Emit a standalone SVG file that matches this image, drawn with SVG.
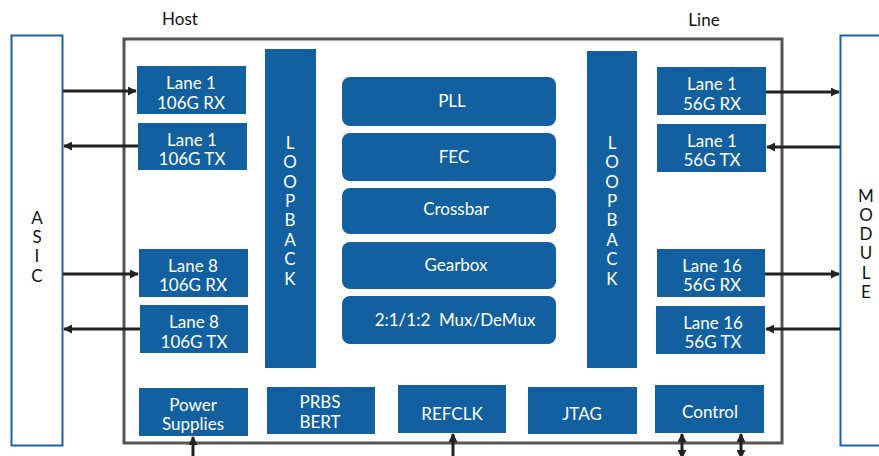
<svg xmlns="http://www.w3.org/2000/svg" width="879" height="456" viewBox="0 0 879 456">
<style>
.b{fill:#12609f}
.t{fill:#fff;font-family:Lato,"Open Sans",sans-serif;font-size:17px;text-anchor:middle}
.k{fill:#111;font-family:Lato,"Open Sans",sans-serif;font-size:17px;text-anchor:middle}
.c{stroke:#222;stroke-width:3;fill:none}
</style>
<defs>
<marker id="a" viewBox="0 0 10 10" refX="9" refY="5" markerWidth="3" markerHeight="3" orient="auto-start-reverse"><path d="M0,0L10,5L0,10z" fill="#222"/></marker>
</defs>
<rect width="879" height="456" fill="#fff"/>
<text class="k" x="180" y="25">Host</text>
<text class="k" x="704" y="26">Line</text>
<rect x="124" y="39" width="658" height="404" fill="none" stroke="#555" stroke-width="3"/>
<g id="asic"><rect x="11.5" y="35.5" width="51" height="410" fill="none" stroke="#1a64a6" stroke-width="2"/>
<text class="k" x="37" y="224">A</text><text class="k" x="37" y="243">S</text><text class="k" x="37" y="262">I</text><text class="k" x="37" y="282">C</text></g>
<g id="module"><rect x="840.5" y="35.5" width="50" height="410" fill="none" stroke="#1a64a6" stroke-width="2"/>
<text class="k" x="866" y="202">M</text><text class="k" x="866" y="221">O</text><text class="k" x="866" y="240">D</text><text class="k" x="866" y="259">U</text><text class="k" x="866" y="279">L</text><text class="k" x="866" y="298">E</text></g>
<g id="h1rx"><rect class="b" x="137" y="66" width="109" height="48"/><text class="t" x="191" y="89">Lane 1</text><text class="t" x="191" y="109">106G RX</text></g>
<g id="h1tx"><rect class="b" x="138" y="123" width="109" height="47"/><text class="t" x="192" y="146">Lane 1</text><text class="t" x="192" y="165">106G TX</text></g>
<g id="h8rx"><rect class="b" x="139" y="249" width="109" height="48"/><text class="t" x="193" y="272">Lane 8</text><text class="t" x="193" y="291">106G RX</text></g>
<g id="h8tx"><rect class="b" x="140" y="305" width="108" height="48"/><text class="t" x="194" y="328">Lane 8</text><text class="t" x="194" y="348">106G TX</text></g>
<g id="lbl"><rect class="b" x="265" y="49" width="51" height="319"/>
<g class="t"><text x="290" y="149">L</text><text x="290" y="168">O</text><text x="290" y="188">O</text><text x="290" y="207">P</text><text x="290" y="226">B</text><text x="290" y="246">A</text><text x="290" y="265">C</text><text x="290" y="285">K</text></g></g>
<g id="lbr"><rect class="b" x="587" y="51" width="50" height="317"/>
<g class="t"><text x="612" y="149">L</text><text x="612" y="168">O</text><text x="612" y="188">O</text><text x="612" y="207">P</text><text x="612" y="226">B</text><text x="612" y="246">A</text><text x="612" y="265">C</text><text x="612" y="285">K</text></g></g>
<g id="pll"><rect class="b" x="342" y="77" width="214" height="49" rx="8"/><text class="t" x="452" y="107">PLL</text></g>
<g id="fec"><rect class="b" x="342" y="133" width="214" height="48" rx="8"/><text class="t" x="454" y="163">FEC</text></g>
<g id="xbar"><rect class="b" x="342" y="188" width="214" height="46" rx="8"/><text class="t" x="456" y="215">Crossbar</text></g>
<g id="gear"><rect class="b" x="342" y="242" width="214" height="47" rx="8"/><text class="t" x="456" y="271">Gearbox</text></g>
<g id="mux"><rect class="b" x="342" y="296" width="214" height="48" rx="8"/><text class="t" x="455" y="326" style="white-space:pre">2:1/1:2  Mux/DeMux</text></g>
<g id="l1rx"><rect class="b" x="657" y="67" width="109" height="48"/><text class="t" x="712" y="90">Lane 1</text><text class="t" x="712" y="110">56G RX</text></g>
<g id="l1tx"><rect class="b" x="657" y="124" width="109" height="48"/><text class="t" x="712" y="147">Lane 1</text><text class="t" x="712" y="166">56G TX</text></g>
<g id="l16rx"><rect class="b" x="657" y="249" width="108" height="48"/><text class="t" x="712" y="272">Lane 16</text><text class="t" x="712" y="291">56G RX</text></g>
<g id="l16tx"><rect class="b" x="656" y="306" width="109" height="48"/><text class="t" x="713" y="329">Lane 16</text><text class="t" x="713" y="348">56G TX</text></g>
<g id="pwr"><rect class="b" x="139" y="388" width="109" height="48"/><text class="t" x="193" y="411">Power</text><text class="t" x="193" y="430">Supplies</text></g>
<g id="prbs"><rect class="b" x="267" y="387" width="108" height="47"/><text class="t" x="320" y="408">PRBS</text><text class="t" x="320" y="428">BERT</text></g>
<g id="refclk"><rect class="b" x="398" y="385" width="108" height="48"/><text class="t" x="452" y="420">REFCLK</text></g>
<g id="jtag"><rect class="b" x="528" y="387" width="109" height="47"/><text class="t" x="582" y="420">JTAG</text></g>
<g id="ctrl"><rect class="b" x="655" y="385" width="109" height="48"/><text class="t" x="710" y="418">Control</text></g>
<g id="connectors" class="c">
<line x1="63" y1="91" x2="136" y2="91" marker-end="url(#a)"/>
<line x1="138" y1="146" x2="64" y2="146" marker-end="url(#a)"/>
<line x1="63" y1="274" x2="138" y2="274" marker-end="url(#a)"/>
<line x1="140" y1="329" x2="64" y2="329" marker-end="url(#a)"/>
<line x1="766" y1="92" x2="839" y2="92" marker-end="url(#a)"/>
<line x1="840" y1="147" x2="767" y2="147" marker-end="url(#a)"/>
<line x1="765" y1="274" x2="839" y2="274" marker-end="url(#a)"/>
<line x1="840" y1="329" x2="766" y2="329" marker-end="url(#a)"/>
<line x1="193" y1="456" x2="193" y2="437" marker-end="url(#a)"/>
<line x1="453" y1="456" x2="453" y2="434" marker-end="url(#a)"/>
<line x1="682" y1="458" x2="682" y2="434" marker-start="url(#a)" marker-end="url(#a)"/>
<line x1="741" y1="458" x2="741" y2="434" marker-start="url(#a)" marker-end="url(#a)"/>
</g>
</svg>
